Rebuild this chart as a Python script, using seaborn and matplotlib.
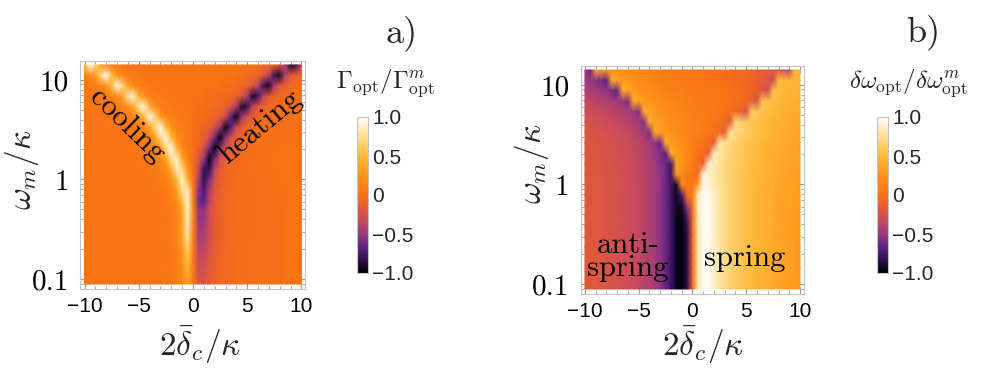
import numpy as np
import pandas as pd
import matplotlib
matplotlib.use("Agg")
import matplotlib.pyplot as plt
import seaborn as sns
from matplotlib.colors import LinearSegmentedColormap
from matplotlib.ticker import FixedLocator

# ---------------- data ----------------
detuning = [-10, -9.5, -9, -8.5, -8, -7.5, -7, -6.5, -6, -5.5, -5, -4.5, -4, -3.5, -3, -2.5, -2, -1.5, -1, -0.5,
            0, 0.5, 1, 1.5, 2, 2.5, 3, 3.5, 4, 4.5, 5, 5.5, 6, 6.5, 7, 7.5, 8, 8.5, 9, 9.5, 10]
# log10(omega_m / kappa) of the sampled rows, top to bottom
log_omega = [1.15, 1.045, 0.94, 0.836, 0.731, 0.626, 0.521, 0.417, 0.312, 0.207, 0.102, -0.002,
             -0.107, -0.212, -0.317, -0.421, -0.526, -0.631, -0.736, -0.840, -0.945, -1.05]

x_ticks = [-10, -5, 0, 5, 10]
x_ticklabels = ["\u221210", "\u22125", "0", "5", "10"]
y_ticks = [10, 1, 0.1]
y_ticklabels = ["10", "1", "0.1"]
cbar_ticks = [-1.0, -0.5, 0.0, 0.5, 1.0]
cbar_ticklabels = ["\u22121.0", "\u22120.5", "0", "0.5", "1.0"]

# Gamma_opt / Gamma_opt^m  (values x 100), rows = log_omega, cols = detuning
gamma_pct = [
    [50, 97, 69, 31, 16, 9, 6, 4, 2, 0, 0, 0, 0, 0, 0, 0, 0, 0, 0, 0, 0, 0, 0, 0, 0, 0, 0, 0, 0, 0, 0, 0, 0, -4, -7, -11, -20, -42, -90, -80, -36],
    [9, 16, 31, 69, 97, 50, 23, 12, 8, 5, 4, 3, 0, 0, 0, 0, 0, 0, 0, 0, 0, 0, 0, 0, 0, 0, 0, 0, 0, -3, -5, -6, -10, -18, -36, -80, -90, -42, -20, -11, -7],
    [4, 5, 8, 12, 23, 50, 97, 69, 31, 16, 9, 6, 4, 3, 2, 0, 0, 0, 0, 0, 0, 0, 0, 0, 0, 0, -2, -3, -4, -6, -10, -18, -36, -80, -90, -42, -20, -11, -7, -5, -4],
    [2, 3, 3, 4, 6, 10, 18, 36, 80, 90, 42, 20, 11, 7, 5, 4, 3, 2, 0, 0, 0, 0, 0, -2, -3, -4, -5, -7, -11, -20, -42, -90, -80, -36, -18, -10, -6, -4, -3, -3, -2],
    [1, 2, 2, 3, 3, 4, 6, 10, 18, 36, 80, 90, 42, 20, 11, 7, 5, 4, 3, 2, 0, -2, -3, -4, -5, -7, -11, -20, -42, -90, -80, -36, -18, -10, -6, -4, -3, -3, -2, -2, -1],
    [1, 1, 1, 2, 2, 3, 4, 5, 8, 12, 23, 50, 97, 69, 31, 16, 9, 6, 4, 3, 0, -3, -4, -6, -9, -16, -31, -69, -97, -50, -23, -12, -8, -5, -4, -3, -2, -2, -1, -1, -1],
    [1, 1, 1, 1, 2, 2, 2, 3, 4, 6, 9, 16, 31, 69, 97, 50, 23, 12, 8, 5, 0, -5, -8, -12, -23, -50, -97, -69, -31, -16, -9, -6, -4, -3, -2, -2, -2, -1, -1, -1, -1],
    [1, 1, 1, 1, 2, 2, 2, 2, 3, 4, 6, 9, 16, 31, 69, 97, 50, 23, 9, 4, -1, -5, -12, -27, -62, -98, -53, -25, -13, -8, -5, -4, -3, -2, -2, -2, -1, -1, -1, -1, -1],
    [0, 0, 0, 0, 1, 1, 1, 1, 1, 2, 3, 5, 8, 15, 29, 67, 95, 47, 19, 6, -1, -10, -25, -61, -97, -52, -24, -12, -7, -4, -3, -2, -1, -1, -1, 0, 0, 0, 0, 0, 0],
    [0, 0, 0, 0, 0, 0, 0, 0, 1, 1, 2, 3, 5, 8, 16, 34, 77, 86, 37, 12, -2, -18, -49, -96, -61, -27, -13, -8, -5, -3, -2, -2, -1, -1, -1, 0, 0, 0, 0, 0, 0],
    [0, 0, 0, 0, 0, 0, 0, 0, 1, 1, 2, 2, 3, 5, 9, 18, 39, 85, 73, 25, -1, -29, -79, -81, -36, -17, -9, -6, -4, -3, -2, -2, -1, -1, -1, 0, 0, 0, 0, 0, 0],
    [0, 0, 0, 0, 0, 0, 0, 0, 0, 1, 1, 1, 2, 3, 5, 10, 21, 48, 90, 49, 1, -42, -82, -59, -28, -14, -9, -5, -4, -3, -2, -2, -1, -1, -1, -1, 0, 0, 0, 0, 0],
    [0, 0, 0, 0, 0, 0, 0, 0, 0, 0, 0, 0, 1, 1, 3, 6, 13, 30, 75, 85, 10, -50, -75, -45, -20, -11, -7, -5, -4, -3, -3, -2, -2, -1, -1, -1, -1, 0, 0, 0, 0],
    [0, 0, 0, 0, 0, 0, 0, 0, 0, 0, 0, 0, 1, 1, 2, 4, 9, 20, 55, 90, 12, -60, -68, -38, -17, -10, -7, -5, -4, -3, -3, -2, -2, -2, -1, -1, -1, -1, 0, 0, 0],
    [0, 0, 0, 0, 0, 0, 0, 0, 0, 0, 0, 0, 0, 1, 1, 2, 5, 12, 34, 88, 19, -50, -52, -30, -17, -10, -6, -4, -3, -3, -2, -2, -2, -1, -1, -1, -1, 0, 0, 0, 0],
    [0, 0, 0, 0, 0, 0, 0, 0, 0, 0, 0, 0, 0, 0, 1, 2, 5, 12, 35, 85, 15, -48, -50, -30, -18, -11, -7, -5, -4, -3, -3, -2, -2, -1, -1, -1, -1, 0, 0, 0, 0],
    [0, 0, 0, 0, 0, 0, 0, 0, 0, 0, 0, 0, 0, 0, 1, 2, 5, 12, 33, 80, 14, -44, -45, -28, -17, -11, -7, -5, -4, -3, -3, -2, -2, -1, -1, -1, -1, 0, 0, 0, 0],
    [0, 0, 0, 0, 0, 0, 0, 0, 0, 0, 0, 0, 0, 0, 1, 2, 5, 11, 30, 72, 12, -40, -40, -25, -16, -10, -7, -5, -4, -3, -2, -2, -2, -1, -1, -1, -1, 0, 0, 0, 0],
    [0, 0, 0, 0, 0, 0, 0, 0, 0, 0, 0, 0, 0, 0, 1, 2, 4, 10, 26, 62, 10, -35, -35, -22, -14, -9, -6, -5, -4, -3, -2, -2, -2, -1, -1, -1, -1, 0, 0, 0, 0],
    [0, 0, 0, 0, 0, 0, 0, 0, 0, 0, 0, 0, 0, 0, 1, 2, 4, 9, 22, 50, 8, -30, -30, -19, -12, -8, -6, -4, -3, -3, -2, -2, -1, -1, -1, -1, -1, 0, 0, 0, 0],
    [0, 0, 0, 0, 0, 0, 0, 0, 0, 0, 0, 0, 0, 0, 1, 2, 4, 8, 18, 40, 6, -25, -25, -16, -11, -7, -5, -4, -3, -2, -2, -2, -1, -1, -1, -1, -1, 0, 0, 0, 0],
    [0, 0, 0, 0, 0, 0, 0, 0, 0, 0, 0, 0, 0, 0, 1, 2, 3, 7, 15, 32, 5, -21, -21, -14, -10, -7, -5, -4, -3, -2, -2, -1, -1, -1, -1, -1, -1, 0, 0, 0, 0],
]

# delta omega_opt / delta omega_opt^m  (values x 100)
shift_pct = [
    [-45, -62, 42, 35, 30, 26, 23, 20, 18, 16, 14, 12, 11, 10, 9, 8, 7, 6, 5, 4, 3, 2, 1, 0, -1, -2, -3, -4, -5, -6, -7, -8, -10, -12, -14, -17, -21, -27, -38, 50, 48],
    [-45, -50, -55, -60, -68, 42, 35, 30, 26, 22, 19, 17, 15, 13, 11, 10, 8, 7, 6, 5, 4, 3, 2, 1, 0, -1, -2, -3, -4, -5, -7, -9, -11, -15, -20, -32, 52, 50, 48, 47, 46],
    [-40, -43, -46, -49, -53, -58, -66, 42, 35, 30, 26, 22, 19, 17, 15, 13, 11, 10, 8, 7, 6, 5, 4, 3, 2, 1, 0, -1, -2, -4, -6, -9, -13, -20, -32, 55, 52, 50, 48, 47, 45],
    [-33, -35, -37, -39, -41, -44, -47, -52, -60, 42, 35, 30, 26, 22, 19, 17, 15, 13, 11, 10, 8, 7, 6, 5, 4, 3, 2, 1, -1, -3, -6, -12, -25, 60, 56, 53, 50, 48, 46, 44, 42],
    [-28, -29, -31, -32, -34, -36, -38, -41, -44, -50, -58, 42, 35, 29, 25, 21, 18, 16, 14, 12, 10, 8, 7, 5, 4, 2, 0, -2, -6, -12, -24, 65, 60, 56, 53, 50, 48, 46, 44, 42, 40],
    [-24, -25, -26, -28, -29, -31, -33, -35, -38, -41, -46, -56, 42, 35, 29, 25, 21, 18, 16, 14, 12, 10, 8, 6, 3, 0, -6, -16, 72, 66, 62, 58, 55, 52, 49, 47, 45, 43, 41, 39, 38],
    [-21, -22, -23, -24, -26, -27, -29, -31, -33, -36, -40, -47, -58, 40, 34, 28, 24, 20, 17, 15, 12, 9, 6, 3, -1, -7, -16, 78, 72, 67, 62, 58, 55, 52, 49, 46, 44, 42, 40, 38, 36],
    [-20, -21, -22, -23, -24, -26, -27, -29, -31, -34, -37, -41, -46, -53, -64, 40, 32, 26, 20, 15, 10, 5, 0, -6, -15, 82, 76, 71, 66, 62, 58, 55, 52, 49, 46, 44, 42, 40, 38, 36, 34],
    [-19, -20, -21, -22, -23, -25, -26, -28, -30, -32, -35, -39, -43, -49, -57, -68, 40, 30, 22, 15, 8, 2, -5, -14, 86, 80, 74, 69, 64, 60, 57, 54, 51, 48, 45, 43, 41, 39, 37, 35, 33],
    [-18, -19, -20, -21, -23, -24, -26, -27, -29, -32, -34, -38, -42, -47, -54, -63, -76, 35, 25, 15, 6, -3, -12, 90, 84, 78, 72, 67, 63, 59, 56, 53, 50, 47, 45, 42, 40, 38, 36, 34, 33],
    [-18, -19, -20, -21, -22, -23, -25, -27, -29, -31, -34, -37, -41, -46, -52, -62, -76, 30, 18, 8, 0, -8, 92, 88, 82, 77, 71, 66, 62, 58, 55, 52, 49, 46, 44, 42, 40, 38, 36, 34, 32],
    [-18, -19, -20, -21, -22, -23, -25, -27, -29, -31, -34, -37, -41, -46, -52, -62, -76, -90, 20, 8, 0, 30, 95, 90, 84, 78, 72, 67, 62, 58, 55, 52, 49, 46, 44, 41, 39, 37, 35, 33, 31],
    [-17, -18, -19, -20, -22, -23, -25, -27, -29, -31, -33, -37, -41, -46, -53, -63, -78, -93, -75, 0, 12, 85, 97, 95, 88, 80, 73, 67, 62, 58, 54, 51, 48, 45, 42, 40, 38, 36, 34, 32, 30],
    [-17, -18, -19, -20, -22, -23, -25, -27, -29, -31, -33, -37, -41, -46, -53, -63, -78, -92, -92, -50, 0, 82, 98, 96, 89, 80, 73, 67, 62, 58, 54, 51, 48, 45, 42, 40, 37, 35, 33, 31, 29],
    [-17, -18, -19, -20, -22, -23, -25, -27, -29, -31, -33, -37, -41, -46, -53, -63, -78, -92, -98, -72, -5, 80, 98, 96, 89, 80, 73, 67, 62, 58, 54, 51, 48, 45, 42, 40, 37, 35, 33, 31, 29],
    [-17, -18, -19, -20, -22, -23, -25, -27, -29, -31, -33, -37, -41, -46, -53, -63, -78, -92, -98, -82, -10, 80, 98, 96, 89, 80, 73, 67, 62, 58, 54, 51, 48, 45, 42, 40, 37, 35, 33, 31, 29],
    [-17, -18, -19, -20, -22, -23, -25, -27, -29, -31, -33, -37, -41, -46, -53, -63, -78, -92, -98, -82, -10, 80, 98, 96, 89, 80, 73, 67, 62, 58, 54, 51, 48, 45, 42, 40, 37, 35, 33, 31, 29],
    [-17, -18, -19, -20, -22, -23, -25, -27, -29, -31, -33, -37, -41, -46, -53, -63, -78, -92, -98, -82, -10, 80, 98, 96, 89, 80, 73, 67, 62, 58, 54, 51, 48, 45, 42, 40, 37, 35, 33, 31, 29],
    [-17, -18, -19, -20, -22, -23, -25, -27, -29, -31, -33, -37, -41, -46, -53, -63, -78, -92, -98, -82, -10, 80, 98, 96, 89, 80, 73, 67, 62, 58, 54, 51, 48, 45, 42, 40, 37, 35, 33, 31, 29],
    [-17, -18, -19, -20, -22, -23, -25, -27, -29, -31, -33, -37, -41, -46, -53, -63, -78, -92, -98, -82, -10, 80, 98, 96, 89, 80, 73, 67, 62, 58, 54, 51, 48, 45, 42, 40, 37, 35, 33, 31, 29],
    [-17, -18, -19, -20, -22, -23, -25, -27, -29, -31, -33, -37, -41, -46, -53, -63, -78, -92, -98, -82, -10, 80, 98, 96, 89, 80, 73, 67, 62, 58, 54, 51, 48, 45, 42, 40, 37, 35, 33, 31, 29],
    [-17, -18, -19, -20, -22, -23, -25, -27, -29, -31, -33, -37, -41, -46, -53, -63, -78, -92, -98, -82, -10, 80, 98, 96, 89, 80, 73, 67, 62, 58, 54, 51, 48, 45, 42, 40, 37, 35, 33, 31, 29],
]

for name, mat in (("gamma", gamma_pct), ("shift", shift_pct)):
    assert len(mat) == len(log_omega), (name, len(mat))
    for i, row in enumerate(mat):
        assert len(row) == len(detuning), (name, i, len(row))

# ---------------- style ----------------
sns.set_theme(style="white")
plt.rcParams["font.family"] = ["DejaVu Sans"]
plt.rcParams["mathtext.fontset"] = "cm"

sunset = LinearSegmentedColormap.from_list(
    "sunset",
    [(0.0, (0.0, 0.0, 0.02)), (0.075, (0.16, 0.05, 0.26)), (0.15, (0.33, 0.12, 0.52)),
     (0.25, (0.60, 0.22, 0.50)), (0.35, (0.80, 0.30, 0.35)), (0.425, (0.90, 0.36, 0.20)),
     (0.5, (0.97, 0.45, 0.08)), (0.625, (1.0, 0.58, 0.10)), (0.75, (1.0, 0.72, 0.22)),
     (0.875, (1.0, 0.87, 0.55)), (1.0, (1.0, 1.0, 1.0))])

frame_gray = "#c4c4c4"
tick_gray = "#9a9a9a"

W, H = 1007, 368
fig = plt.figure(figsize=(W / 100, H / 100), dpi=100)


def fr(l, t, r, b):
    return [l / W, 1 - b / H, (r - l) / W, (b - t) / H]


XLIM = (-0.83, len(detuning) - 1 + 0.65)
YLIM = (len(log_omega) - 1 + 0.48, -0.38)

ax_a = fig.add_axes(fr(80.0, 61.0, 305.0, 289.0))
ax_b = fig.add_axes(fr(580.5, 66.0, 803.5, 294.0))
cax_a = fig.add_axes(fr(357, 117, 368, 273))
cax_b = fig.add_axes(fr(877, 117, 888, 273))

dx = detuning[1] - detuning[0]
dl = (log_omega[0] - log_omega[-1]) / (len(log_omega) - 1)


def xpos(v):
    return (v - detuning[0]) / dx


def ypos(v):
    return (log_omega[0] - np.log10(v)) / dl


def draw_panel(ax, cax, pct):
    df = pd.DataFrame(np.array(pct, dtype=float) / 100.0, index=log_omega, columns=detuning)
    sns.heatmap(df, ax=ax, cbar_ax=cax, cmap=sunset, vmin=-1, vmax=1,
                xticklabels=False, yticklabels=False, shading="gouraud")
    ax.set_xlim(*XLIM)
    ax.set_ylim(*YLIM)
    for s in ax.spines.values():
        s.set_visible(True)
        s.set_color(frame_gray)
        s.set_linewidth(0.8)
    ax.set_xticks([xpos(v) for v in x_ticks])
    ax.set_xticklabels(x_ticklabels, fontfamily="Liberation Sans", fontsize=15)
    ax.set_yticks([ypos(v) for v in y_ticks])
    ax.set_yticklabels(y_ticklabels, fontfamily="cmr10", fontsize=21)
    ax.xaxis.set_minor_locator(FixedLocator([xpos(k) for k in range(-10, 11)]))
    ymin = []
    for d in (-2, -1, 0, 1):
        for m in range(1, 10):
            p = ypos(m * 10.0 ** d)
            if YLIM[1] <= p <= YLIM[0]:
                ymin.append(p)
    ax.yaxis.set_minor_locator(FixedLocator(ymin))
    ax.tick_params(which="both", direction="in", color=tick_gray,
                   top=True, right=True, bottom=True, left=True)
    ax.tick_params(which="major", length=5, width=0.8)
    ax.tick_params(which="minor", length=2.5, width=0.6)
    ax.tick_params(axis="x", which="major", pad=6, labelcolor="black")
    ax.tick_params(axis="y", which="major", pad=8, labelcolor="black")

    cbar = ax.collections[0].colorbar
    cbar.set_ticks(cbar_ticks)
    cbar.set_ticklabels(cbar_ticklabels)
    cax.tick_params(labelsize=15, length=3, width=0.6, color=tick_gray, direction="in", pad=3)
    for lab in cax.get_yticklabels():
        lab.set_fontfamily("Liberation Sans")
    cbar.outline.set_edgecolor(frame_gray)
    cbar.outline.set_linewidth(0.8)


draw_panel(ax_a, cax_a, gamma_pct)
draw_panel(ax_b, cax_b, shift_pct)

# axis labels
fig.text(22 / W, 1 - 170 / H, r"$\omega_m/\kappa$", rotation=90, ha="center", va="center", fontsize=24)
fig.text(532 / W, 1 - 164 / H, r"$\omega_m/\kappa$", rotation=90, ha="center", va="center", fontsize=24)
fig.text(200 / W, 1 - 345 / H, r"$2\bar{\delta}_c/\kappa$", ha="center", va="center", fontsize=24)
fig.text(703 / W, 1 - 345 / H, r"$2\bar{\delta}_c/\kappa$", ha="center", va="center", fontsize=24)

# colorbar titles
fig.text(386 / W, 1 - 83 / H, r"$\Gamma_{\rm opt}/\Gamma_{\rm opt}^{m}$", ha="center", va="center", fontsize=18)
fig.text(908 / W, 1 - 83 / H, r"$\delta\omega_{\rm opt}/\delta\omega_{\rm opt}^{m}$", ha="center", va="center", fontsize=18)

# panel labels
fig.text(402 / W, 1 - 33 / H, "a)", ha="center", va="center", fontsize=26, fontfamily="cmr10")
fig.text(923 / W, 1 - 32 / H, "b)", ha="center", va="center", fontsize=26, fontfamily="cmr10")

# annotations
ax_a.text(7.8, 5.85, "cooling", rotation=-44, rotation_mode="anchor", ha="center", va="center",
          fontsize=22, fontfamily="cmr10", color="black")
ax_a.text(32.4, 5.95, "heating", rotation=40, rotation_mode="anchor", ha="center", va="center",
          fontsize=22, fontfamily="cmr10", color="black")
ax_b.text(8.0, 17.9, "anti-\nspring", ha="center", va="center", linespacing=0.8,
          fontsize=22, fontfamily="cmr10", color="black")
ax_b.text(29.8, 18.1, "spring", ha="center", va="center",
          fontsize=22, fontfamily="cmr10", color="black")

fig.savefig("out.png", dpi=100)
